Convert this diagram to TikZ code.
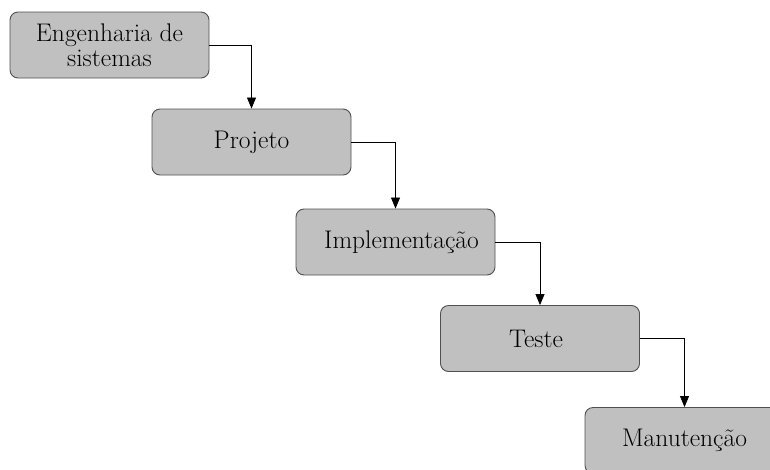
\documentclass[tikz,border=0pt]{standalone}
\usetikzlibrary{arrows.meta}
\definecolor{boxfill}{HTML}{C0C0C0}
\definecolor{boxline}{HTML}{505050}
\begin{document}
\begin{tikzpicture}[x=1pt,y=-1pt,
  stage/.style={draw=boxline, line width=0.9pt, fill=boxfill, rounded corners=8pt,
    minimum width=199pt, minimum height=66pt, inner sep=0pt, align=center,
    font=\fontsize{25.5}{25}\selectfont},
  link/.style={draw=black, line width=0.8pt, -{Triangle[length=11pt,width=9pt]}}]
\useasboundingbox (0,0) rectangle (770,469);
\node[stage] (b1) at (109.5,45) {Engenharia de\\sistemas};
\node[stage] (b2) at (251.5,142) {Projeto};
\node[stage] (b3) at (395.5,242) {\hspace*{12pt}Implementação};
\node[stage] (b4) at (540,338.5) {\hspace*{-8pt}Teste};
\node[stage] (b5) at (684.5,440.5) {Manutenção};
\draw[link] (b1.east) -| (b2.north);
\draw[link] (b2.east) -| (b3.north);
\draw[link] (b3.east) -| (b4.north);
\draw[link] (b4.east) -| (b5.north);
\end{tikzpicture}
\end{document}
